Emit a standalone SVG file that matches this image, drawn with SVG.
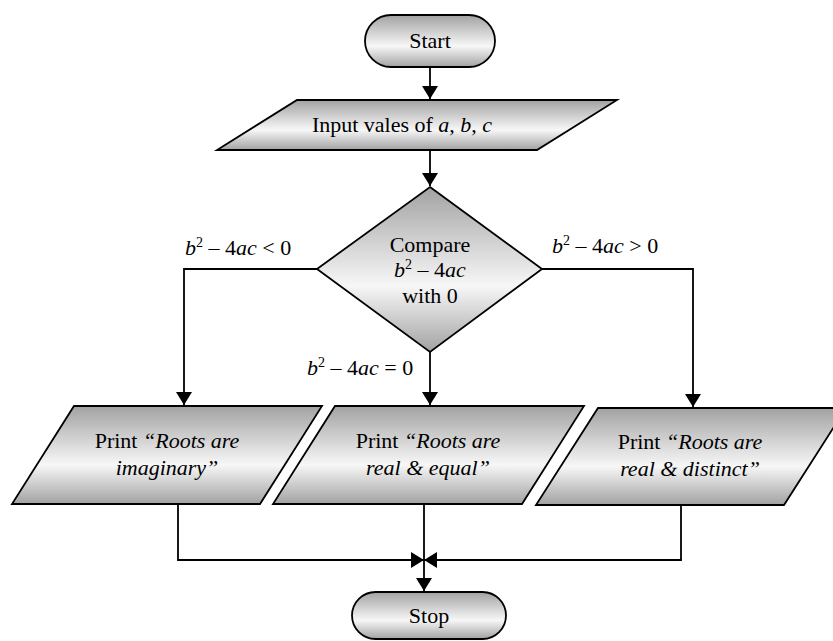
<svg xmlns="http://www.w3.org/2000/svg" width="833" height="641" viewBox="0 0 833 641">
  <defs>
    <linearGradient id="shade" x1="0" y1="0" x2="0" y2="1">
      <stop offset="0" stop-color="#a2a2a2"/>
      <stop offset="0.6" stop-color="#f7f7f7"/>
      <stop offset="1" stop-color="#a2a2a2"/>
    </linearGradient>
    <marker id="arrow" markerUnits="userSpaceOnUse" markerWidth="14" markerHeight="16" refX="13" refY="8" orient="auto">
      <path d="M0,0 L13,8 L0,16 Z" fill="#000"/>
    </marker>
  </defs>
  <style>
    .shape { fill: url(#shade); stroke: #000; stroke-width: 1.8; }
    .line { fill: none; stroke: #000; stroke-width: 1.8; }
    text { font-family: "Liberation Serif", "Times New Roman", serif; font-size: 22px; fill: #000; }
    .c { text-anchor: middle; }
    .i { font-style: italic; }
    .sup { font-size: 14px; }
  </style>

  <!-- connectors and branch labels -->
  <g id="connectors">
    <path class="line" d="M430,67 V99" marker-end="url(#arrow)"/>
    <path class="line" d="M430,150 V186" marker-end="url(#arrow)"/>
    <path class="line" d="M317,269 H184 V405" marker-end="url(#arrow)"/>
    <path class="line" d="M542,269 H693 V407" marker-end="url(#arrow)"/>
    <path class="line" d="M430,352 V405" marker-end="url(#arrow)"/>
    <path class="line" d="M178,504 V560 H424" marker-end="url(#arrow)"/>
    <path class="line" d="M681,505 V560 H424" marker-end="url(#arrow)"/>
    <path class="line" d="M424,504 V591" marker-end="url(#arrow)"/>
    <text x="185" y="255"><tspan class="i">b</tspan><tspan class="sup" dy="-8">2</tspan><tspan dy="8"> – 4</tspan><tspan class="i">ac</tspan> &lt; 0</text>
    <text x="552" y="253"><tspan class="i">b</tspan><tspan class="sup" dy="-8">2</tspan><tspan dy="8"> – 4</tspan><tspan class="i">ac</tspan> &gt; 0</text>
    <text x="307" y="375"><tspan class="i">b</tspan><tspan class="sup" dy="-8">2</tspan><tspan dy="8"> – 4</tspan><tspan class="i">ac</tspan> = 0</text>
  </g>

  <!-- start terminal -->
  <g id="start">
    <rect class="shape" x="365" y="15" width="130" height="52" rx="26" ry="26"/>
    <text class="c" x="430" y="48">Start</text>
  </g>

  <!-- input -->
  <g id="input">
    <polygon class="shape" points="297,100 617,100 537,150 217,150"/>
    <text class="c" x="402" y="132">Input vales of <tspan class="i">a</tspan>, <tspan class="i">b</tspan>, <tspan class="i">c</tspan></text>
  </g>

  <!-- decision -->
  <g id="compare">
    <polygon class="shape" points="430,187 542,269 430,352 317,269"/>
    <text class="c" x="430" y="252">Compare</text>
    <text class="c" x="430" y="277"><tspan class="i">b</tspan><tspan class="sup" dy="-8">2</tspan><tspan dy="8"> – 4</tspan><tspan class="i">ac</tspan></text>
    <text class="c" x="430" y="303">with 0</text>
  </g>

  <!-- outputs -->
  <g id="imaginary">
    <polygon class="shape" points="74,406 322,406 260,504 12,504"/>
    <text class="c" x="167" y="448">Print <tspan class="i">“Roots are</tspan></text>
    <text class="c i" x="167" y="475">imaginary”</text>
  </g>

  <g id="equal">
    <polygon class="shape" points="335,406 584,406 522,504 273,504"/>
    <text class="c" x="428" y="448">Print <tspan class="i">“Roots are</tspan></text>
    <text class="c i" x="428" y="475">real &amp; equal”</text>
  </g>

  <g id="distinct">
    <polygon class="shape" points="598,408 846,408 784,505 536,505"/>
    <text class="c" x="690" y="449">Print <tspan class="i">“Roots are</tspan></text>
    <text class="c i" x="690" y="476">real &amp; distinct”</text>
  </g>

  <!-- stop terminal -->
  <g id="stop">
    <rect class="shape" x="352" y="592" width="154" height="47" rx="23.5" ry="23.5"/>
    <text class="c" x="429" y="623">Stop</text>
  </g>
</svg>
